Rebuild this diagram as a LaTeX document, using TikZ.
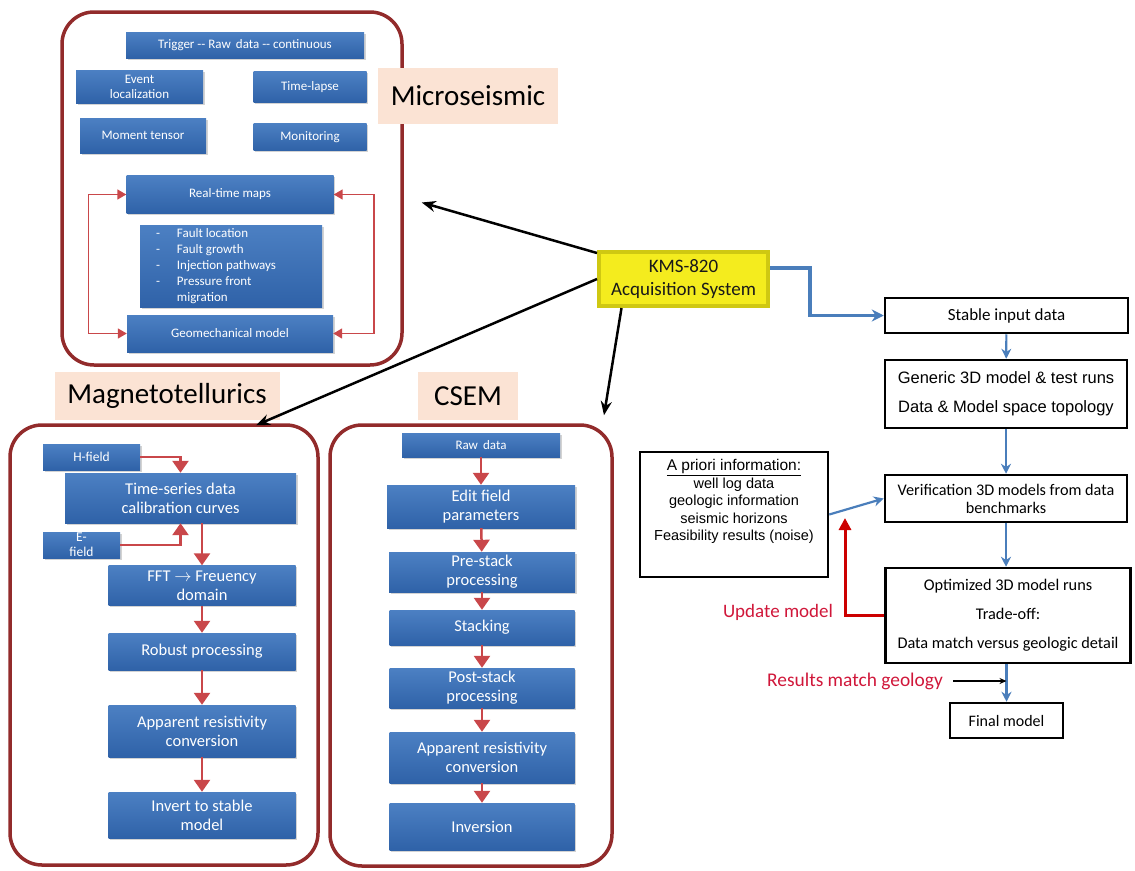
\documentclass[tikz,border=0pt]{standalone}
\usepackage{fontspec}
\setmainfont{Carlito}
\newfontfamily\arialfont{Liberation Sans}
\usetikzlibrary{arrows.meta,shadows}

\definecolor{framered}{HTML}{922B2B}
\definecolor{peach}{HTML}{FBE3D4}
\definecolor{bluetop}{HTML}{4C80C3}
\definecolor{bluebot}{HTML}{2F62A8}
\definecolor{flowred}{HTML}{C9474A}
\definecolor{kmsyellow}{HTML}{F4EC1E}
\definecolor{kmsedge}{HTML}{CFC812}
\definecolor{linkblue}{HTML}{4A7EBB}
\definecolor{updred}{HTML}{CC0000}
\definecolor{txtred}{HTML}{D0173A}

\begin{document}
\begin{tikzpicture}[x=1pt,y=-1pt,inner sep=0pt]
\tikzstyle{bigframe}=[draw=framered,line width=3.5pt,rounded corners=32pt]
\tikzstyle{headlbl}=[fill=peach,font=\fontsize{29}{32}\selectfont]
\tikzstyle{bluebox}=[top color=bluetop,bottom color=bluebot,text=white,align=center,drop shadow={shadow xshift=1.5pt,shadow yshift=-1.5pt,opacity=0.35}]
\tikzstyle{msbox}=[bluebox,font=\fontsize{13}{15}\selectfont]
\tikzstyle{mtbox}=[bluebox,font=\fontsize{16.5}{19}\selectfont]
\tikzstyle{outbox}=[draw=black,line width=2.5pt,align=center,font=\fontsize{16.5}{19}\selectfont]
\tikzstyle{redflow}=[draw=flowred,line width=2.5pt,-{Triangle[length=12pt,width=16pt]}]
\tikzstyle{redloop}=[draw=flowred,line width=1.6pt,{Triangle[length=9pt,width=10pt]}-{Triangle[length=9pt,width=10pt]}]
\tikzstyle{kmsarrow}=[draw=black,line width=2.5pt,-{Stealth[length=14pt,width=11pt]}]
\tikzstyle{bluelink}=[draw=linkblue,line width=2.2pt,-{Stealth[length=10pt,width=10pt]}]
\useasboundingbox (0,0) rectangle (1135,870);

% Microseismic
\node[bigframe,minimum width=340,minimum height=353] (msframe) at (232,188.5) {};
\node[headlbl,minimum width=180,minimum height=56] (mslbl) at (468,96) {Microseismic};
\node[msbox,minimum width=238,minimum height=26] (trig) at (245,45) {Trigger -{}- Raw\, data -{}- continuous};
\node[msbox,minimum width=127,minimum height=33] (evloc) at (139.5,86.5) {Event\\localization};
\node[msbox,minimum width=113,minimum height=31] (tlapse) at (310,87) {Time-lapse};
\node[msbox,minimum width=126,minimum height=35] (mtens) at (143,135.5) {Moment tensor};
\node[msbox,minimum width=113,minimum height=27] (monit) at (310,137) {Monitoring};
\node[msbox,minimum width=207,minimum height=38] (rtmaps) at (230,194.5) {Real-time maps};
\node[msbox,minimum width=182,minimum height=82,font=\fontsize{13}{16}\selectfont] (faults) at (231,266)
  {\makebox[150pt][l]{\begin{tabular}{@{}l@{\hspace{17pt}}l@{}}
   - & Fault location\\ - & Fault growth\\ - & Injection pathways\\ - & Pressure front\\ & migration
   \end{tabular}}};
\node[msbox,minimum width=206,minimum height=37] (geo) at (230,333.5) {Geomechanical model};
\draw[redloop] (rtmaps.west) -- ++(-38,0) |- (geo.west);
\draw[redloop] (rtmaps.east) -- ++(40,0) |- (geo.east);

% Magnetotellurics
\node[bigframe,minimum width=308,minimum height=440] (mtframe) at (164,645) {};
\node[headlbl,minimum width=225,minimum height=48] (mtlbl) at (167,396) {Magnetotellurics};
\node[msbox,minimum width=97,minimum height=26,font=\fontsize{13.5}{15}\selectfont] (hfield) at (91.5,457) {H-field};
\node[mtbox,minimum width=231,minimum height=50] (tseries) at (180.5,498) {Time-series data\\calibration curves};
\node[msbox,minimum width=77,minimum height=26,font=\fontsize{13.5}{15}\selectfont] (efield) at (81.5,545) {E-\\field};
\node[mtbox,minimum width=187,minimum height=40] (fft) at (202,585.5) {FFT $\rightarrow$ Freuency\\domain};
\node[mtbox,minimum width=187,minimum height=37] (robust) at (202,651.5) {Robust processing};
\node[mtbox,minimum width=187,minimum height=52] (appres) at (202,731) {Apparent resistivity\\conversion};
\node[mtbox,minimum width=187,minimum height=46] (invert) at (202,815) {Invert to stable\\model};
\draw[redflow] (hfield.east) -| (tseries.north);
\draw[redflow] (efield.east) -| (tseries.south);
\draw[redflow] (fft.north |- tseries.south) -- (fft.north);
\draw[redflow] (fft) -- (robust);
\draw[redflow] (robust) -- (appres);
\draw[redflow] (appres) -- (invert);

% CSEM
\node[bigframe,minimum width=282,minimum height=441] (csframe) at (471,645.5) {};
\node[headlbl,minimum width=100,minimum height=48] (cslbl) at (468,396) {CSEM};
\node[msbox,minimum width=158,minimum height=24] (raw) at (481,445) {Raw\, data};
\node[mtbox,minimum width=188,minimum height=43] (edit) at (481,506.5) {Edit field\\parameters};
\node[mtbox,minimum width=186,minimum height=40] (prest) at (482,572) {Pre-stack\\processing};
\node[mtbox,minimum width=185,minimum height=35] (stack) at (482,627.5) {Stacking};
\node[mtbox,minimum width=185,minimum height=40] (postst) at (482,688) {Post-stack\\processing};
\node[mtbox,minimum width=185,minimum height=51] (appres2) at (482,757.5) {Apparent resistivity\\conversion};
\node[mtbox,minimum width=185,minimum height=47] (inversion) at (482,826.5) {Inversion};
\foreach \a/\b in {raw/edit,edit/prest,prest/stack,stack/postst,postst/appres2,appres2/inversion}
  \draw[redflow] (\a) -- (\b);

% acquisition system
\node[fill=kmsyellow,draw=kmsedge,line width=4pt,minimum width=169,minimum height=54,align=center,
  font=\fontsize{19}{23}\selectfont,text=black!90] (kms) at (683.5,279) {KMS-820\\Acquisition System};
\draw[kmsarrow] ([yshift=-3pt]kms.north west) -- ([xshift=18pt,yshift=-14pt]msframe.east);
\draw[kmsarrow] (kms.west) -- ([xshift=92pt,yshift=-2pt]mtframe.north);
\draw[kmsarrow] ([xshift=-62pt]kms.south) -- ([xshift=133pt,yshift=8pt]csframe.north);

% modelling chain
\node[outbox,minimum width=243,minimum height=35,font=\fontsize{17}{20}\selectfont] (stable) at (1006.5,315.5) {Stable input data};
\node[outbox,minimum width=242,minimum height=68,font=\arialfont\fontsize{16.5}{29}\selectfont] (generic) at (1006,394)
  {Generic 3D model \& test runs\\Data \& Model space topology};
\node[outbox,minimum width=242,minimum height=47,font=\fontsize{16.2}{18}\selectfont] (verif) at (1006,498.5)
  {Verification 3D models from data\\benchmarks};
\node[outbox,minimum width=245,minimum height=95,font=\fontsize{16.3}{29}\selectfont] (opt) at (1008,615.5)
  {Optimized 3D model runs\\Trade-off:\\Data match versus geologic detail};
\node[outbox,minimum width=113,minimum height=35,font=\fontsize{16}{19}\selectfont] (final) at (1006.5,720.5) {Final model};
\node[outbox,minimum width=188,minimum height=125,font=\arialfont\fontsize{14.5}{17.5}\selectfont] (apriori) at (734,514.5)
  {\parbox[c][112pt][t]{184pt}{\centering\vspace*{1pt}{\fontsize{15.5}{17.5}\selectfont\underline{A priori information:}}\\well log data\\geologic information\\seismic horizons\\Feasibility results (noise)}};
\draw[linkblue,line width=3.5pt,-{Stealth[length=12pt,width=12pt]}] ([yshift=11pt]kms.east) -- ++(40,0) |- (stable.west);
\draw[bluelink] (stable) -- (generic);
\draw[bluelink] (generic) -- (verif);
\draw[bluelink] (verif.south) -- (verif.south |- opt.north);
\draw[bluelink] (opt.south -| final.north) -- (final.north);
\draw[bluelink] (apriori.east) -- (verif.west);

\coordinate (updtip) at (845,518);
\node[text=txtred,font=\fontsize{19}{22}\selectfont] (updlbl) at (778,612) {Update model};
\draw[draw=updred,line width=3pt,-{Triangle[length=12pt,width=12pt]}] (opt.west) -| (updtip);
\node[text=txtred,font=\fontsize{19.4}{22}\selectfont] (resgeo) at (855,681) {Results match geology};
\draw[line width=1.3pt,-{Stealth[length=7pt,width=6pt]}] ([xshift=10pt]resgeo.east) -- (resgeo.east -| final.north);
\end{tikzpicture}
\end{document}
